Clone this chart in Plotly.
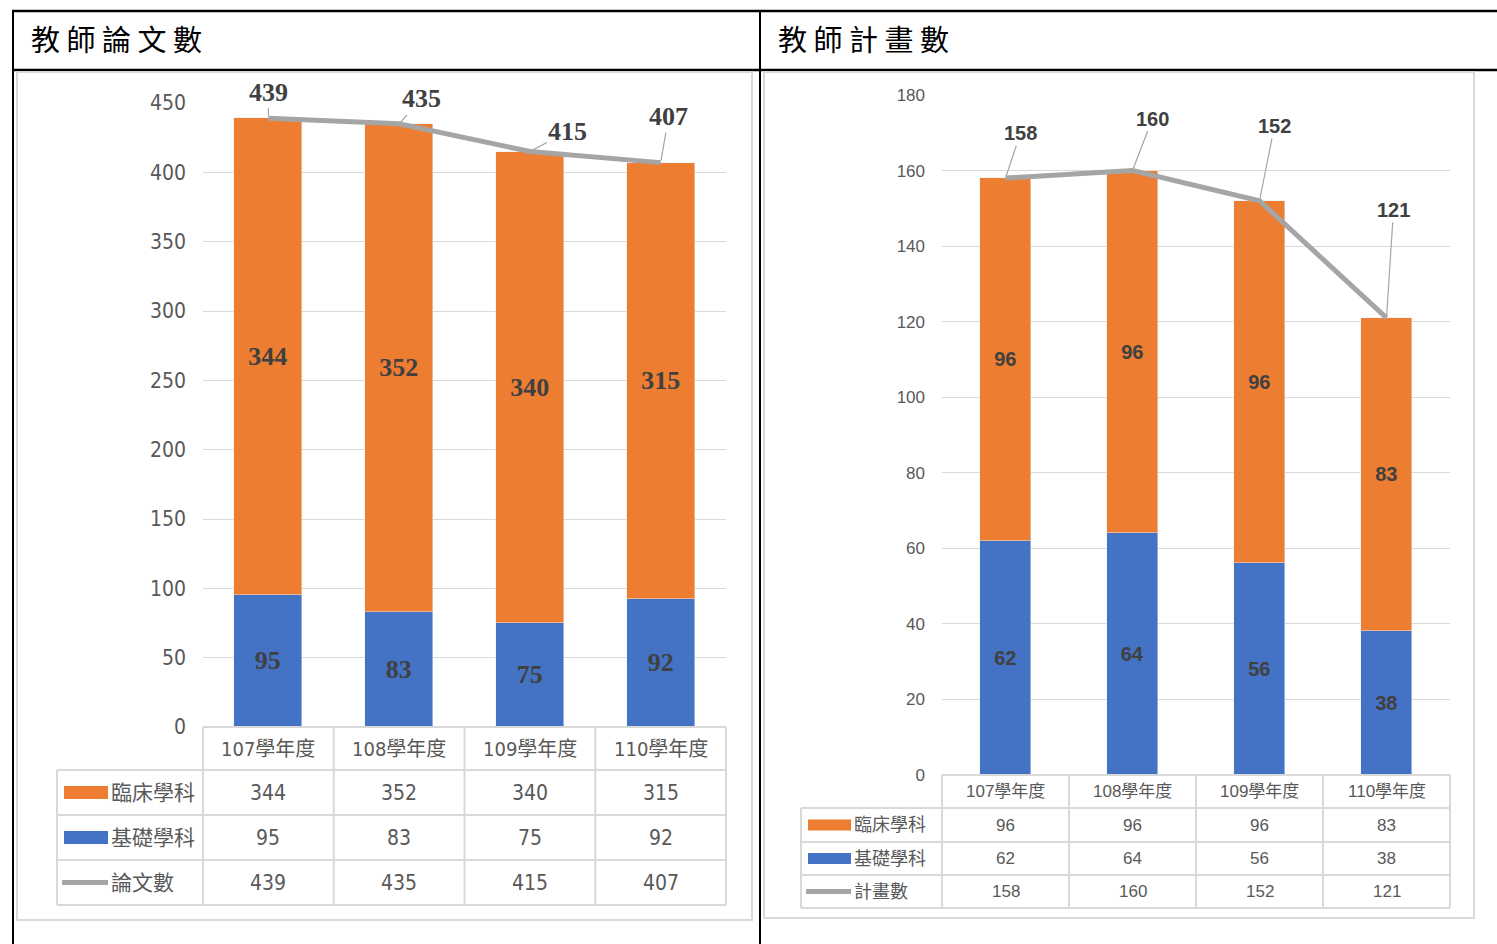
import plotly.graph_objects as go

# ---------------- data ----------------
years = ["107學年度", "108學年度", "109學年度", "110學年度"]
series_names_left = ["臨床學科", "基礎學科", "論文數"]
series_names_right = ["臨床學科", "基礎學科", "計畫數"]

paper_clinical = [344, 352, 340, 315]
paper_basic = [95, 83, 75, 92]
paper_total = [439, 435, 415, 407]

proj_clinical = [96, 96, 96, 83]
proj_basic = [62, 64, 56, 38]
proj_total = [158, 160, 152, 121]

left_ticks = [0, 50, 100, 150, 200, 250, 300, 350, 400, 450]
right_ticks = [0, 20, 40, 60, 80, 100, 120, 140, 160, 180]

title_left = "教 師 論 文 數"
title_right = "教 師 計 畫 數"

# ---------------- styling ----------------
W, H = 1497, 944
ORANGE = "#ED7D31"
BLUE = "#4472C4"
GRAY = "#A5A5A5"
GRID = "#D9D9D9"
TXT = "#595959"
LBL = "#404040"
NARROW = "Liberation Sans Narrow, DejaVu Sans Condensed, Noto Sans CJK TC, sans-serif"
SANS = "Liberation Sans, Noto Sans CJK TC, sans-serif"
SERIF = "Liberation Serif, serif"


def px(x):
    return x / W


def py(y):
    return 1 - y / H


fig = go.Figure()

# ---- left chart traces ----
fig.add_trace(go.Bar(x=years, y=paper_basic, name=series_names_left[1], marker_color=BLUE,
                     width=0.52, text=paper_basic, textposition="inside",
                     insidetextanchor="middle", textangle=0,
                     textfont=dict(family=SERIF, size=26, color=LBL, weight="bold"),
                     xaxis="x", yaxis="y", showlegend=False))
fig.add_trace(go.Bar(x=years, y=paper_clinical, name=series_names_left[0], marker_color=ORANGE,
                     width=0.52, text=paper_clinical, textposition="inside",
                     insidetextanchor="middle", textangle=0,
                     textfont=dict(family=SERIF, size=26, color=LBL, weight="bold"),
                     xaxis="x", yaxis="y", showlegend=False))
fig.add_trace(go.Scatter(x=years, y=paper_total, mode="lines", name=series_names_left[2],
                         line=dict(color=GRAY, width=5), xaxis="x", yaxis="y",
                         showlegend=False, cliponaxis=False))

# ---- right chart traces ----
fig.add_trace(go.Bar(x=years, y=proj_basic, name=series_names_right[1], marker_color=BLUE,
                     width=0.40, text=proj_basic, textposition="inside",
                     insidetextanchor="middle", textangle=0,
                     textfont=dict(family=SANS, size=20, color=LBL, weight="bold"),
                     xaxis="x2", yaxis="y2", showlegend=False))
fig.add_trace(go.Bar(x=years, y=proj_clinical, name=series_names_right[0], marker_color=ORANGE,
                     width=0.40, text=proj_clinical, textposition="inside",
                     insidetextanchor="middle", textangle=0,
                     textfont=dict(family=SANS, size=20, color=LBL, weight="bold"),
                     xaxis="x2", yaxis="y2", showlegend=False))
fig.add_trace(go.Scatter(x=years, y=proj_total, mode="lines", name=series_names_right[2],
                         line=dict(color=GRAY, width=5), xaxis="x2", yaxis="y2",
                         showlegend=False, cliponaxis=False))

shapes = []
annotations = []

# ---- document frame ----
def line(x0, y0, x1, y1, color="black", width=2.5):
    shapes.append(dict(type="line", xref="paper", yref="paper",
                       x0=px(x0), y0=py(y0), x1=px(x1), y1=py(y1),
                       line=dict(color=color, width=width)))


line(12, 11, 1497, 11, width=2.5)
line(12, 70, 1497, 70, width=2.5)
line(13, 10, 13, 944, width=2)
line(760, 10, 760, 944, width=2)

annotations.append(dict(xref="paper", yref="paper", x=px(29), y=py(38), text=title_left,
                        showarrow=False, xanchor="left", yanchor="middle",
                        font=dict(family="Noto Sans CJK TC", size=29, color="black")))
annotations.append(dict(xref="paper", yref="paper", x=px(776), y=py(38), text=title_right,
                        showarrow=False, xanchor="left", yanchor="middle",
                        font=dict(family="Noto Sans CJK TC", size=29, color="black")))

# ---- chart area boxes ----
shapes.append(dict(type="rect", xref="paper", yref="paper", x0=px(17), y0=py(920), x1=px(752), y1=py(72),
                   line=dict(color=GRID, width=2), fillcolor="rgba(0,0,0,0)"))
shapes.append(dict(type="rect", xref="paper", yref="paper", x0=px(764), y0=py(918), x1=px(1474), y1=py(72),
                   line=dict(color=GRID, width=2), fillcolor="rgba(0,0,0,0)"))


# ---- data tables ----
def data_table(xa, x_left, x_plot0, x_plot1, rows_y, names, rows_vals, hdr_size, val_size,
               name_size, font_fam, swatch):
    ncol = len(years)
    colw = (x_plot1 - x_plot0) / ncol
    y_top = rows_y[0]
    y_bot = rows_y[-1]
    line(x_plot0, rows_y[0], x_plot1, rows_y[0], GRID, 2)
    for yy in rows_y[1:]:
        line(x_left, yy, x_plot1, yy, GRID, 2)
    for i in range(ncol + 1):
        line(x_plot0 + i * colw, y_top, x_plot0 + i * colw, y_bot, GRID, 2)
    line(x_left, rows_y[1], x_left, y_bot, GRID, 2)
    hc = (rows_y[0] + rows_y[1]) / 2
    for cat in years:
        annotations.append(dict(xref=xa, yref="paper", x=cat, y=py(hc), text=cat, showarrow=False,
                                xanchor="center", yanchor="middle",
                                font=dict(family=font_fam, size=hdr_size, color=TXT)))
    colors = [ORANGE, BLUE, GRAY]
    for r, (nm, vals) in enumerate(zip(names, rows_vals)):
        cy = (rows_y[r + 1] + rows_y[r + 2]) / 2
        sx0, sx1, sh = swatch
        if r < 2:
            shapes.append(dict(type="rect", xref="paper", yref="paper",
                               x0=px(x_left + sx0), x1=px(x_left + sx1),
                               y0=py(cy + sh / 2), y1=py(cy - sh / 2),
                               fillcolor=colors[r], line=dict(width=0)))
        else:
            shapes.append(dict(type="line", xref="paper", yref="paper",
                               x0=px(x_left + sx0 - 2), x1=px(x_left + sx1),
                               y0=py(cy), y1=py(cy),
                               line=dict(color=GRAY, width=5)))
        annotations.append(dict(xref="paper", yref="paper", x=px(x_left + sx1 + 1), y=py(cy), text=nm,
                                showarrow=False, xanchor="left", yanchor="middle",
                                font=dict(family=font_fam, size=name_size, color=TXT)))
        for cat, v in zip(years, vals):
            annotations.append(dict(xref=xa, yref="paper", x=cat, y=py(cy), text=str(v),
                                    showarrow=False, xanchor="center", yanchor="middle",
                                    font=dict(family=font_fam, size=val_size, color=TXT)))


data_table("x", 57, 203, 726, [727, 770, 815, 860, 905], series_names_left,
           [paper_clinical, paper_basic, paper_total], 20, 21, 21, NARROW, (7, 51, 13))
data_table("x2", 801, 942, 1450, [775, 808, 842, 875, 908], series_names_right,
           [proj_clinical, proj_basic, proj_total], 17, 17, 18, SANS, (7, 50, 11))

# ---- total line labels with leader lines ----
left_offsets = [(0, -26), (22, -25), (38, -20), (8, -46)]
right_offsets = [(15, -45), (20, -52), (15, -75), (7, -108)]
for cat, v, (ax, ay) in zip(years, paper_total, left_offsets):
    annotations.append(dict(xref="x", yref="y", x=cat, y=v, text=str(v), ax=ax, ay=ay,
                            showarrow=True, arrowhead=0, arrowwidth=1.2, arrowcolor=GRAY,
                            standoff=2,
                            font=dict(family=SERIF, size=26, color=LBL, weight="bold")))
for cat, v, (ax, ay) in zip(years, proj_total, right_offsets):
    annotations.append(dict(xref="x2", yref="y2", x=cat, y=v, text=str(v), ax=ax, ay=ay,
                            showarrow=True, arrowhead=0, arrowwidth=1.2, arrowcolor=GRAY,
                            standoff=2,
                            font=dict(family=SANS, size=20, color=LBL, weight="bold")))

axis_common = dict(showline=False, zeroline=False, ticks="", automargin=False)
fig.update_layout(
    width=W, height=H, margin=dict(l=0, r=0, t=0, b=0, pad=0, autoexpand=False),
    autosize=False,
    paper_bgcolor="white", plot_bgcolor="white",
    barmode="stack", bargap=0,
    xaxis=dict(domain=[px(203), px(726)], range=[-0.5, 3.5], type="category",
               showticklabels=False, showgrid=False, anchor="y", **axis_common),
    yaxis=dict(domain=[py(727), py(103)], range=[0, 450], tickvals=left_ticks,
               showgrid=True, gridcolor=GRID, gridwidth=1, anchor="x",
               ticklabelstandoff=16,
               tickfont=dict(family=NARROW, size=21, color=TXT), **axis_common),
    xaxis2=dict(domain=[px(942), px(1450)], range=[-0.5, 3.5], type="category",
                showticklabels=False, showgrid=False, anchor="y2", **axis_common),
    yaxis2=dict(domain=[py(775), py(95)], range=[0, 180], tickvals=right_ticks,
                showgrid=True, gridcolor=GRID, gridwidth=1, anchor="x2",
                ticklabelstandoff=16,
                tickfont=dict(family=SANS, size=17, color=TXT), **axis_common),
    shapes=shapes,
    annotations=annotations,
)

fig.write_html(
    "out.html",
    config={"displayModeBar": False},
    post_script=(
        "document.documentElement.style.margin='0';"
        "document.body.style.margin='0';"
        "document.body.style.overflow='hidden';"
        "var d=document.getElementById('{plot_id}');"
        "d.style.position='fixed';d.style.top='0px';d.style.left='0px';"
    ),
)
